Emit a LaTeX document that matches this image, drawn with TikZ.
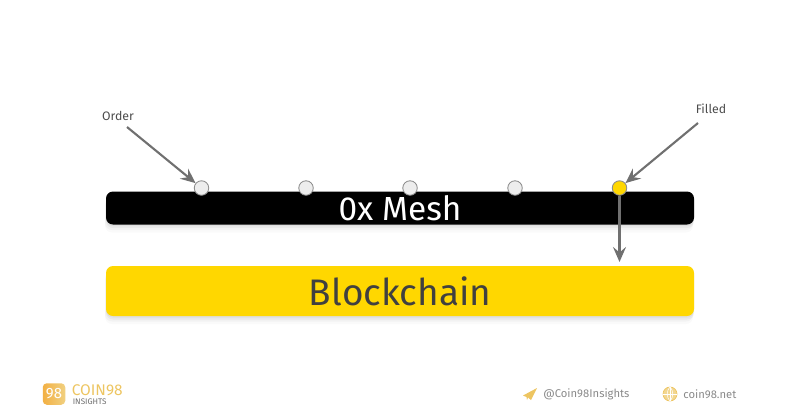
\documentclass[tikz,border=0pt]{standalone}
\usepackage{fontspec}
\setmainfont{Fira Sans}
\usepackage{tikz}
\usetikzlibrary{arrows.meta}
\usetikzlibrary{shadows}

\definecolor{chainyellow}{HTML}{FFD700}
\definecolor{dotgrey}{HTML}{EDEDED}
\definecolor{arrowgrey}{HTML}{707070}
\definecolor{foottext}{HTML}{8A8A8A}
\definecolor{logogold}{HTML}{EDC561}

\tikzset{
	softshadow/.style={
		general shadow={shadow yshift=-0.03cm, fill=black, opacity=0.05},
		general shadow={shadow yshift=-0.07cm, fill=black, opacity=0.04},
		general shadow={shadow yshift=-0.11cm, shadow xshift=-0.02cm, fill=black, opacity=0.03},
		general shadow={shadow yshift=-0.16cm, shadow xshift=-0.02cm, fill=black, opacity=0.02}},
	bar/.style={rounded corners=0.14cm, minimum width=11.76cm, inner sep=0, softshadow},
	dot/.style={circle, draw=arrowgrey!80, line width=0.5pt, minimum size=0.29cm, inner sep=0},
	pointer/.style={draw=arrowgrey, line width=1.2pt, -{Stealth[length=0.3cm, width=0.26cm, inset=0.11cm]}},
	note/.style={text=black!70, font=\fontsize{7}{8}\selectfont},
	foot/.style={text=foottext}
}

\begin{document}
\begin{tikzpicture}
	\useasboundingbox (0, 0) rectangle (16, 8.36);
	% the two bars
	\node[bar, fill=black, text=white, minimum height=0.66cm, font=\fontsize{19}{20}\selectfont] (mesh) at (8, 4.2) {0x Mesh};
	\node[bar, fill=chainyellow, text=black!75, minimum height=1cm, font=\fontsize{21}{22}\selectfont] (chain) at (8, 2.54) {Blockchain};
	% orders on the mesh
	\foreach \i/\x in {1/4.03, 2/6.12, 3/8.2, 4/10.3}
		\node[dot, fill=dotgrey] (order\i) at (\x, 4.6) {};
	\node[dot, fill=chainyellow] (filled) at (12.39, 4.6) {};
	% labels and arrows
	\node[note] (orderlabel) at (2.36, 6.04) {Order};
	\node[note] (filledlabel) at (14.22, 6.18) {Filled};
	\coordinate (orderstart) at (2.54, 5.82);
	\coordinate (filledstart) at (13.96, 5.9);
	\coordinate (chainend) at (12.39, 3.12);
	\draw[pointer] (orderstart) -- (order1);
	\draw[pointer] (filledstart) -- (filled);
	\draw[pointer] (filled) -- (chainend);
	% footer
	\node[rounded corners=0.08cm, left color=logogold!70!orange, right color=logogold!80!white, minimum width=0.45cm, minimum height=0.43cm, inner sep=0, text=white, font=\fontsize{8.5}{9}\selectfont] (logo) at (1.08, 0.48) {98};
	\node[text=logogold, anchor=west, inner sep=0, font=\fontsize{8.8}{9}\selectfont] (coin) at (1.43, 0.56) {COIN98};
	\node[text=foottext!80!black, anchor=west, inner sep=0, font=\fontsize{4.6}{5}\selectfont] (insights) at (1.45, 0.33) {INSIGHTS};
	\fill[logogold] (10.46, 0.45) -- (10.74, 0.6) -- (10.62, 0.36) -- (10.56, 0.41) -- (10.54, 0.36) -- (10.53, 0.42) -- cycle;
	\node[foot, anchor=west, inner sep=0, font=\fontsize{6.4}{8}\selectfont] (telegram) at (10.86, 0.48) {@Coin98Insights};
	\node[circle, fill=logogold!70, draw=logogold, minimum size=0.28cm, inner sep=0] (globe) at (13.4, 0.48) {};
	\draw[white, line width=0.3pt] (globe.north) -- (globe.south) (globe.west) -- (globe.east);
	\draw[white, line width=0.3pt] (globe.north) to[bend left=40] (globe.south);
	\draw[white, line width=0.3pt] (globe.north) to[bend right=40] (globe.south);
	\node[foot, anchor=west, inner sep=0, font=\fontsize{6.4}{8}\selectfont] (site) at (13.66, 0.48) {coin98.net};
\end{tikzpicture}
\end{document}
